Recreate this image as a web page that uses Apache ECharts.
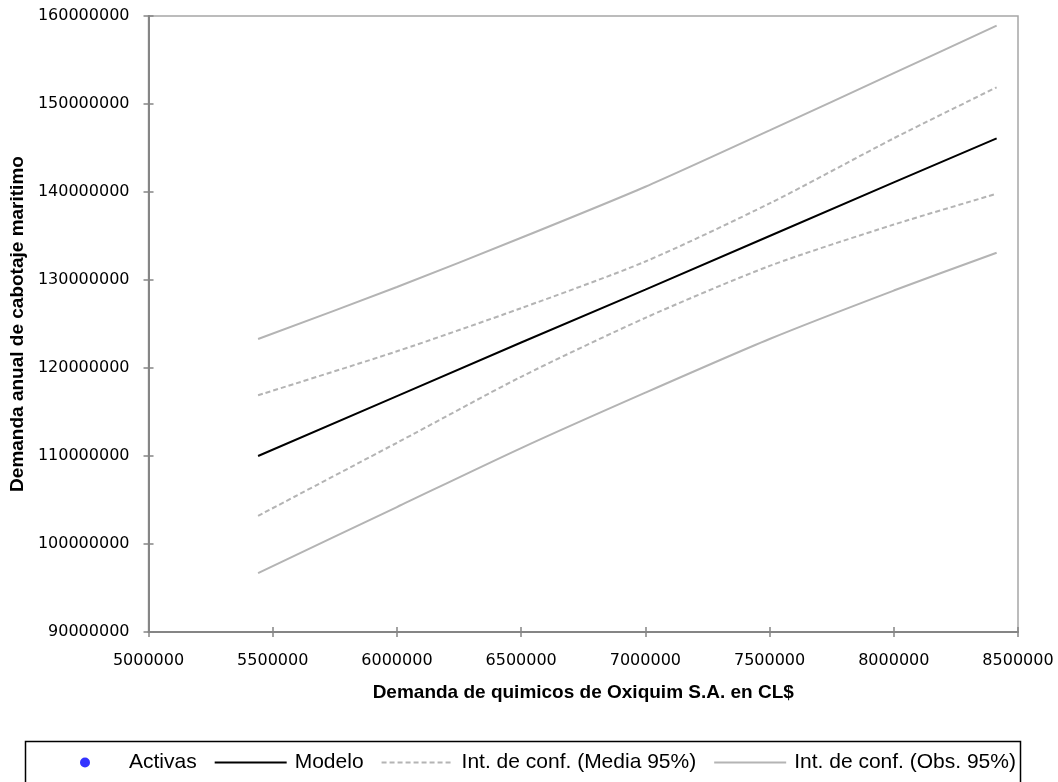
<!DOCTYPE html>
<html><head><meta charset="utf-8">
<script src="https://cdn.jsdelivr.net/npm/echarts@6/dist/echarts.min.js"></script>
<style>html,body{margin:0;padding:0;background:#fff}#c{width:1058px;height:782px}</style>
</head><body><div id="c"></div>
<script>
// x values (Demanda de quimicos de Oxiquim S.A. en CL$)
const xVals      = [5441000, 6000000, 6500000, 7000000, 7500000, 8000000, 8414000];
// y values (Demanda anual de cabotaje maritimo)
const modelo     = [110000000, 116800000, 122900000, 128900000, 135000000, 141100000, 146100000];
const mediaSup   = [116900000, 121900000, 126800000, 132100000, 138700000, 146100000, 151900000];
const mediaInf   = [103200000, 111500000, 119000000, 125700000, 131600000, 136300000, 139800000];
const obsSup     = [123300000, 129200000, 134800000, 140600000, 147000000, 153500000, 158900000];
const obsInf     = [96700000, 104200000, 110900000, 117200000, 123300000, 128800000, 133100000];
const activas    = [];
const xTicks = {min: 5000000, max: 8500000, interval: 500000};
const yTicks = {min: 90000000, max: 160000000, interval: 10000000};

const pairs = ys => xVals.map((x, i) => [x, ys[i]]);
const sans = '"Liberation Sans", Arial, sans-serif';
const dejavu = '"DejaVu Sans", Verdana, sans-serif';
const grey = '#b4b4b4';
const axisGrey = '#858585';
const plain = v => String(Math.round(v));

const chart = echarts.init(document.getElementById('c'), null, {renderer: 'canvas'});
const baseX = {type: 'value', min: xTicks.min, max: xTicks.max, interval: xTicks.interval, splitLine: {show: false}};
const baseY = {type: 'value', min: yTicks.min, max: yTicks.max, interval: yTicks.interval, splitLine: {show: false}};
chart.setOption({
  animation: false,
  backgroundColor: '#fff',
  grid: {left: 148, right: 40, top: 16, bottom: 150, show: true, borderColor: '#a6a6a6', borderWidth: 1.5, containLabel: false},
  xAxis: [
    Object.assign({}, baseX, {
      position: 'bottom',
      axisLine: {show: true, lineStyle: {color: axisGrey, width: 2}},
      axisTick: {show: true, inside: false, length: 5, lineStyle: {color: axisGrey, width: 1.5}},
      axisLabel: {color: '#000', fontFamily: dejavu, fontSize: 16, margin: 21, formatter: plain},
      name: 'Demanda de quimicos de Oxiquim S.A. en CL$',
      nameLocation: 'middle', nameGap: 51,
      nameTextStyle: {color: '#000', fontFamily: sans, fontWeight: 'bold', fontSize: 19}
    }),
    Object.assign({}, baseX, {
      position: 'bottom',
      axisLine: {show: false},
      axisTick: {show: true, inside: true, length: 5, lineStyle: {color: axisGrey, width: 1.5}},
      axisLabel: {show: false}
    })
  ],
  yAxis: [
    Object.assign({}, baseY, {
      position: 'left',
      axisLine: {show: true, lineStyle: {color: axisGrey, width: 2}},
      axisTick: {show: true, inside: false, length: 5, lineStyle: {color: axisGrey, width: 1.5}},
      axisLabel: {color: '#000', fontFamily: dejavu, fontSize: 16, margin: 19, formatter: plain},
      name: 'Demanda anual de cabotaje maritimo',
      nameLocation: 'middle', nameGap: 113, nameRotate: 90,
      nameTextStyle: {color: '#000', fontFamily: sans, fontWeight: 'bold', fontSize: 19}
    }),
    Object.assign({}, baseY, {
      position: 'left',
      axisLine: {show: false},
      axisTick: {show: true, inside: true, length: 5, lineStyle: {color: axisGrey, width: 1.5}},
      axisLabel: {show: false}
    })
  ],
  legend: {
    left: 75, top: 747, itemWidth: 72, itemHeight: 10, itemGap: 17,
    textStyle: {color: '#000', fontFamily: sans, fontSize: 21, padding: [0, 0, 0, 3]},
    data: [
      {name: 'Activas', icon: 'circle'},
      {name: 'Modelo', itemStyle: {opacity: 0}},
      {name: 'Int. de conf. (Media 95%)', itemStyle: {opacity: 0}},
      {name: 'Int. de conf. (Obs. 95%)', itemStyle: {opacity: 0}}
    ]
  },
  graphic: [{
    type: 'rect', left: 23, top: 739, silent: true, z: -1,
    shape: {width: 995, height: 70},
    style: {fill: 'none', stroke: '#000', lineWidth: 1.5}
  }],
  series: [
    {name: 'Activas', type: 'scatter', data: activas, symbolSize: 10, itemStyle: {color: '#0000ff'}},
    {name: 'Modelo', type: 'line', data: pairs(modelo), symbol: 'none', lineStyle: {color: '#000', width: 2}, itemStyle: {color: '#000'}},
    {name: 'Int. de conf. (Media 95%)', type: 'line', data: pairs(mediaSup), smooth: 0.25, symbol: 'none', lineStyle: {color: grey, width: 2, type: [5, 3]}, itemStyle: {color: grey}},
    {name: 'Int. de conf. (Media 95%)', type: 'line', data: pairs(mediaInf), smooth: 0.25, symbol: 'none', lineStyle: {color: grey, width: 2, type: [5, 3]}, itemStyle: {color: grey}},
    {name: 'Int. de conf. (Obs. 95%)', type: 'line', data: pairs(obsSup), smooth: 0.25, symbol: 'none', lineStyle: {color: grey, width: 2}, itemStyle: {color: grey}},
    {name: 'Int. de conf. (Obs. 95%)', type: 'line', data: pairs(obsInf), smooth: 0.25, symbol: 'none', lineStyle: {color: grey, width: 2}, itemStyle: {color: grey}}
  ]
});
</script></body></html>
